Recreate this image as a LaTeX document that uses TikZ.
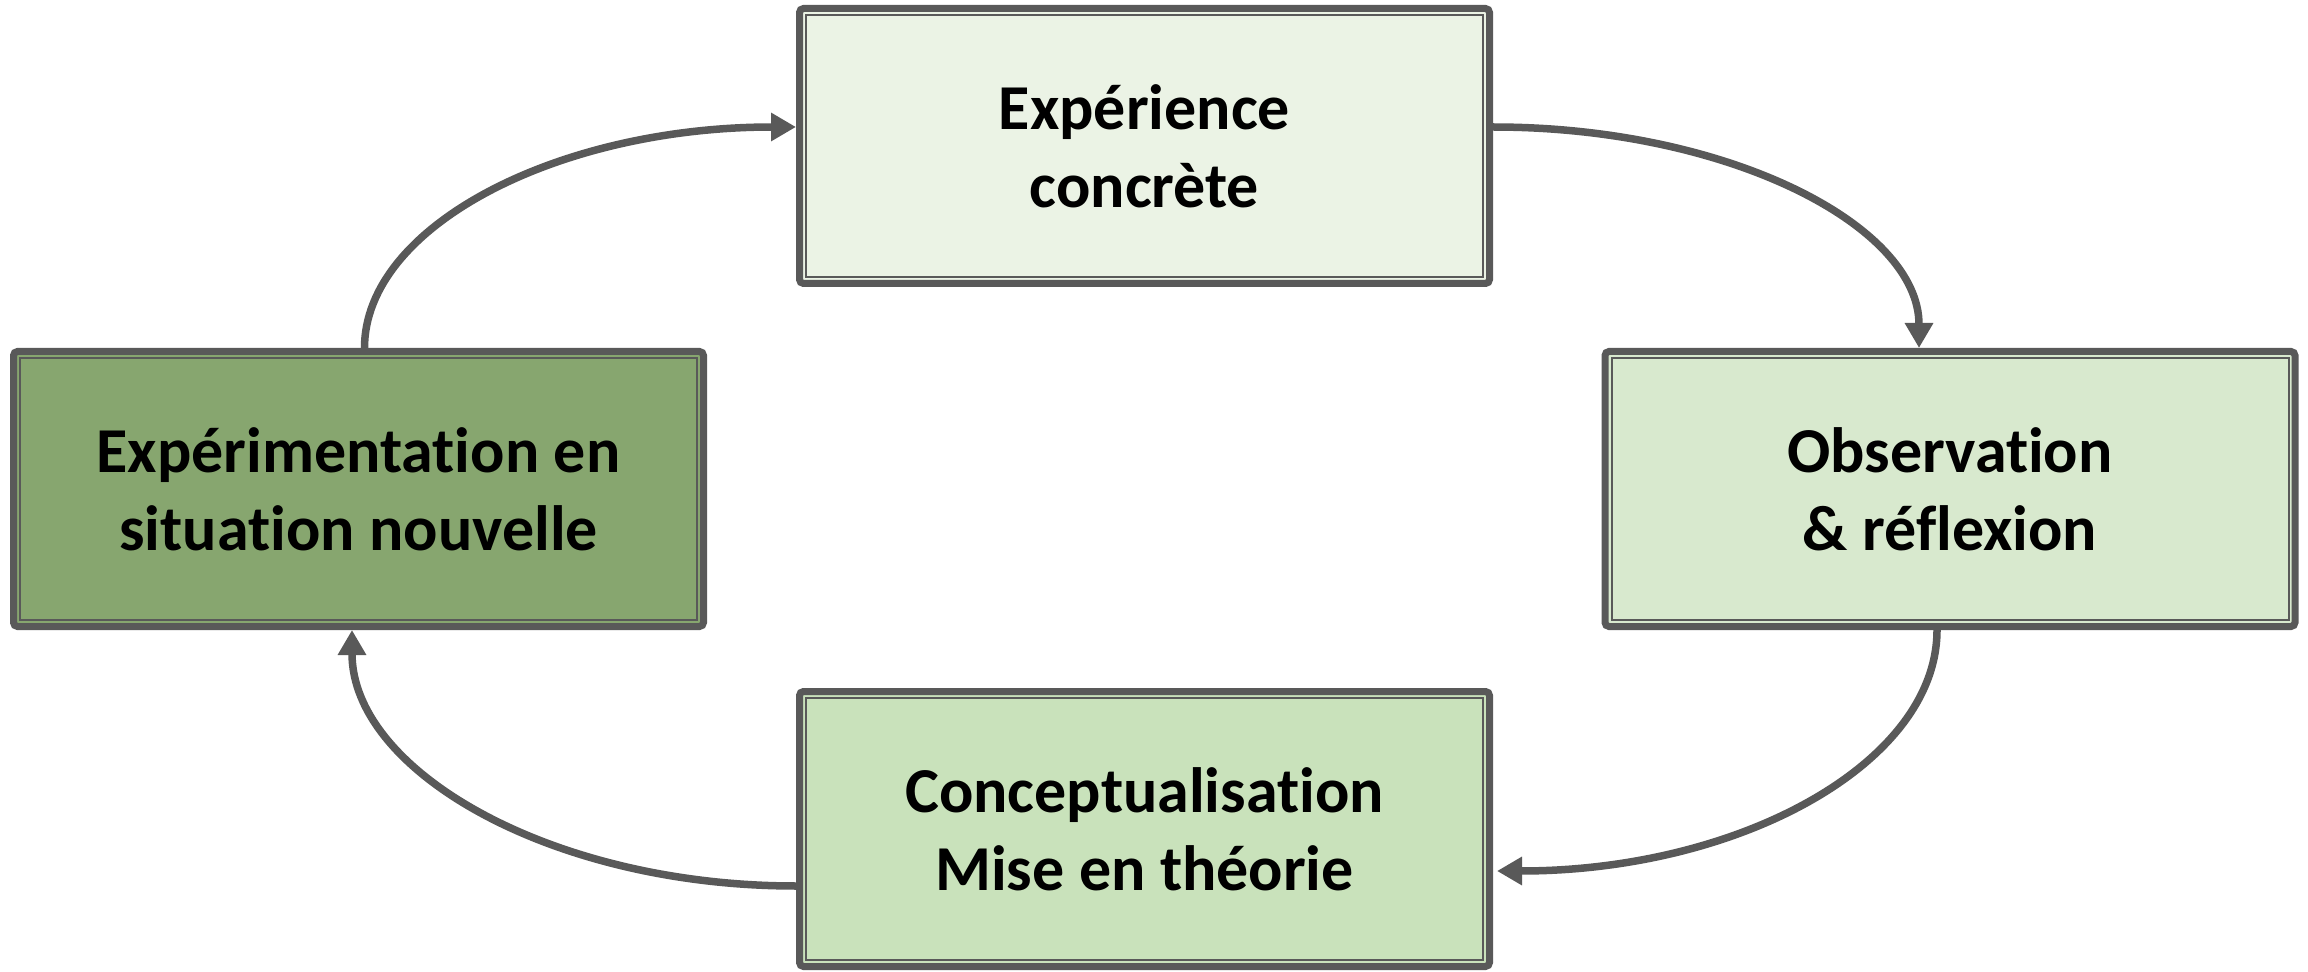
\documentclass[tikz,border=0pt]{standalone}
\usepackage{fontspec}
\setmainfont[Ligatures=NoCommon]{Carlito}
\usetikzlibrary{arrows.meta}
\definecolor{linegray}{HTML}{595959}
\definecolor{fillone}{HTML}{EBF3E5}
\definecolor{filltwo}{HTML}{D8E9CE}
\definecolor{fillthree}{HTML}{C9E2BB}
\definecolor{fillfour}{HTML}{87A66F}

\begin{document}
\begin{tikzpicture}[x=1pt,y=1pt,
	stagebox/.style={draw=linegray, line width=3.5pt, rounded corners=2pt,
		minimum width=345pt, minimum height=137.5pt, align=center,
		font=\fontsize{32}{39}\selectfont\bfseries,
		path picture={\draw[linegray, line width=1pt, sharp corners]
			([shift={(3.25pt,-3.25pt)}]path picture bounding box.north west) rectangle
			([shift={(-3.25pt,3.25pt)}]path picture bounding box.south east);}},
	cycle/.style={draw=linegray, line width=3.75pt, -{Triangle[length=12.5pt,width=13.5pt]}}]
	\useasboundingbox (0,0) rectangle (1154,485.5);
	% the four stages
	\node[stagebox, fill=fillone] (exp) at (572.25,412.5) {Expérience\\concrète};
	\node[stagebox, fill=filltwo] (obs) at (975,241) {Observation\\\& réflexion};
	\node[stagebox, fill=fillthree] (conc) at (572.25,71) {Conceptualisation\\Mise en théorie};
	\node[stagebox, fill=fillfour] (nouv) at (179.25,241) {Expérimentation en\\situation nouvelle};
	% the cycle
	\draw[cycle] ([xshift=3pt]nouv.north) .. controls +(0,61) and +(-119,0) .. ([yshift=9.5pt]exp.west);
	\draw[cycle] ([yshift=9.5pt]exp.east) .. controls +(118,0) and +(0,61) .. ([xshift=-15.5pt]obs.north);
	\draw[cycle] ([xshift=-6.5pt]obs.south) .. controls +(0,-66.5) and +(121.5,0) .. ([xshift=2pt,yshift=-21pt]conc.east);
	\draw[cycle] ([yshift=-28.5pt]conc.west) .. controls +(-122.6,0) and +(0,-70.4) .. ([xshift=-3.25pt]nouv.south);
\end{tikzpicture}
\end{document}
